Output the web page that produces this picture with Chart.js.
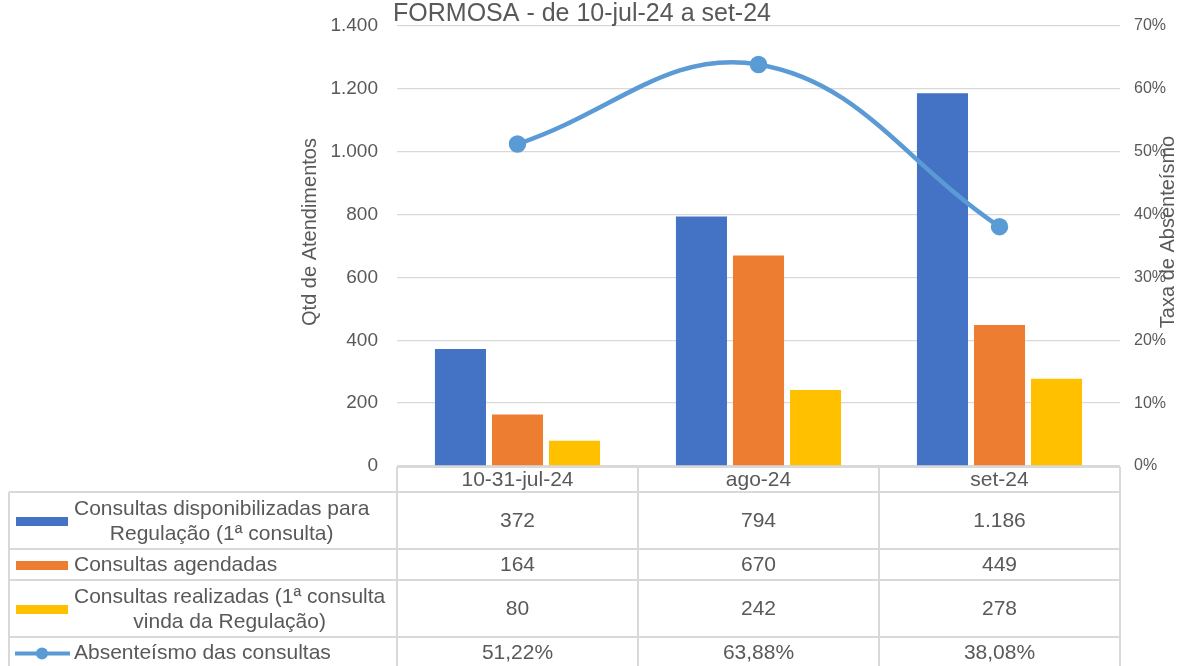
<!DOCTYPE html>
<html>
<head>
<meta charset="utf-8">
<script src="https://cdn.jsdelivr.net/npm/chart.js@4"></script>
<style>
  html, body { margin: 0; padding: 0; background: #fff; }
  #box { width: 1178px; height: 666px; }
</style>
</head>
<body>
<div id="box"><canvas id="grafico"></canvas></div>
<script>
const categorias = ['10-31-jul-24', 'ago-24', 'set-24'];
const disponibilizadas = [372, 794, 1186];
const agendadas = [164, 670, 449];
const realizadas = [80, 242, 278];
const absenteismo = [51.22, 63.88, 38.08];
const nomes = [
  ['Consultas disponibilizadas para', 'Regulação (1ª consulta)'],
  ['Consultas agendadas'],
  ['Consultas realizadas (1ª consulta', 'vinda da Regulação)'],
  ['Absenteísmo das consultas']
];
const cores = ['#4472C4', '#ED7D31', '#FFC000', '#5B9BD5'];
const titulo = 'FORMOSA - de 10-jul-24 a set-24';
const tituloY = 'Qtd de Atendimentos';
const tituloY1 = 'Taxa de Absenteísmo';

const FONTE = "'Liberation Sans', Arial, sans-serif";
const CINZA = '#595959';

function milhar(v){
  return String(Math.round(v)).replace(/\B(?=(\d{3})+(?!\d))/g, '.');
}
function pct(v){
  return v.toFixed(2).replace('.', ',') + '%';
}

// tabela de dados embaixo do grafico (estilo Excel) + titulos
const tabela = {
  id: 'tabela',
  afterDraw(chart){
    const ctx = chart.ctx;
    const area = chart.chartArea;
    const xs = chart.scales.x;
    const n = categorias.length;
    const colW = (area.right - area.left) / n;
    const topo = area.bottom + 1;
    const hCab = 25;
    const esq = 9;
    const fim = 680;
    const series = [disponibilizadas, agendadas, realizadas, absenteismo];
    const alturas = nomes.map(l => l.length > 1 ? 57 : 31);

    ctx.save();
    ctx.strokeStyle = '#d9d9d9';
    ctx.lineWidth = 2;
    ctx.beginPath();
    ctx.moveTo(area.left, topo); ctx.lineTo(area.right, topo);
    let y = topo + hCab;
    const cortes = [y];
    alturas.forEach(h => { y += h; cortes.push(y); });
    cortes.forEach(c => { ctx.moveTo(esq, c); ctx.lineTo(area.right, c); });
    for(let i = 0; i <= n; i++){
      ctx.moveTo(area.left + i * colW, topo);
      ctx.lineTo(area.left + i * colW, fim);
    }
    ctx.moveTo(esq, topo + hCab); ctx.lineTo(esq, fim);
    ctx.stroke();

    ctx.fillStyle = CINZA;
    ctx.font = '21px ' + FONTE;
    ctx.textAlign = 'center';
    ctx.textBaseline = 'middle';
    categorias.forEach((c, i) => {
      ctx.fillText(c, xs.getPixelForValue(i), topo + hCab / 2 + 1);
    });

    series.forEach((dados, r) => {
      const y0 = cortes[r], y1 = cortes[r + 1];
      const cy = (y0 + y1) / 2 + 1;
      // chave da legenda
      if(r < 3){
        ctx.fillStyle = cores[r];
        ctx.fillRect(16, cy - 4.5, 52, 9);
      } else {
        ctx.strokeStyle = cores[r];
        ctx.lineWidth = 4;
        ctx.beginPath(); ctx.moveTo(15, cy); ctx.lineTo(70, cy); ctx.stroke();
        ctx.fillStyle = cores[r];
        ctx.beginPath(); ctx.arc(42, cy, 6, 0, Math.PI * 2); ctx.fill();
      }
      // nome da serie
      ctx.fillStyle = CINZA;
      const linhas = nomes[r];
      const larg = Math.max(...linhas.map(t => ctx.measureText(t).width));
      const cx = 74 + larg / 2;
      const lh = 25;
      linhas.forEach((t, k) => {
        ctx.fillText(t, cx, cy + (k - (linhas.length - 1) / 2) * lh);
      });
      // valores
      dados.forEach((v, i) => {
        const txt = r < 3 ? milhar(v) : pct(v);
        ctx.fillText(txt, xs.getPixelForValue(i), cy);
      });
    });

    // titulo geral
    ctx.font = '25px ' + FONTE;
    ctx.fillText(titulo, 582, 14);

    // titulos dos eixos
    ctx.font = '20px ' + FONTE;
    [[310, tituloY], [1168, tituloY1]].forEach(([tx, t]) => {
      ctx.save();
      ctx.translate(tx, 232);
      ctx.rotate(-Math.PI / 2);
      ctx.fillText(t, 0, 0);
      ctx.restore();
    });
    ctx.restore();
  }
};

new Chart(document.getElementById('grafico'), {
  data: {
    labels: categorias,
    datasets: [
      {
        type: 'line',
        label: nomes[3].join(' '),
        data: absenteismo,
        yAxisID: 'y1',
        borderColor: cores[3],
        backgroundColor: cores[3],
        borderWidth: 4.5,
        pointRadius: 6.5,
        pointHoverRadius: 6.5,
        tension: 0.4,
        order: 0
      },
      { type: 'bar', label: nomes[0].join(' '), data: disponibilizadas, backgroundColor: cores[0], yAxisID: 'y', order: 1 },
      { type: 'bar', label: nomes[1].join(' '), data: agendadas, backgroundColor: cores[1], yAxisID: 'y', order: 1 },
      { type: 'bar', label: nomes[2].join(' '), data: realizadas, backgroundColor: cores[2], yAxisID: 'y', order: 1 }
    ]
  },
  options: {
    responsive: true,
    maintainAspectRatio: false,
    animation: false,
    categoryPercentage: 0.71,
    barPercentage: 0.895,
    layout: { padding: { top: 26, left: 298, right: 0, bottom: 200 } },
    plugins: {
      legend: { display: false },
      tooltip: { enabled: false },
      title: { display: false }
    },
    scales: {
      x: { display: false },
      y: {
        position: 'left',
        min: 0, max: 1400,
        border: { display: false },
        grid: { color: '#d9d9d9', lineWidth: 1.3, drawTicks: false },
        ticks: { stepSize: 200, padding: 19, color: CINZA, font: { family: FONTE, size: 19 }, callback: v => milhar(v) },
        afterFit(s){ s.width = 99; s.paddingTop = 4; s.paddingBottom = 4; }
      },
      y1: {
        position: 'right',
        min: 0, max: 70,
        border: { display: false },
        grid: { display: false, drawTicks: false },
        ticks: { stepSize: 10, padding: 14, color: CINZA, font: { family: FONTE, size: 16 }, callback: v => v + '%' },
        afterFit(s){ s.width = 58; s.paddingTop = 4; s.paddingBottom = 4; }
      }
    }
  },
  plugins: [tabela]
});
</script>
</body>
</html>
